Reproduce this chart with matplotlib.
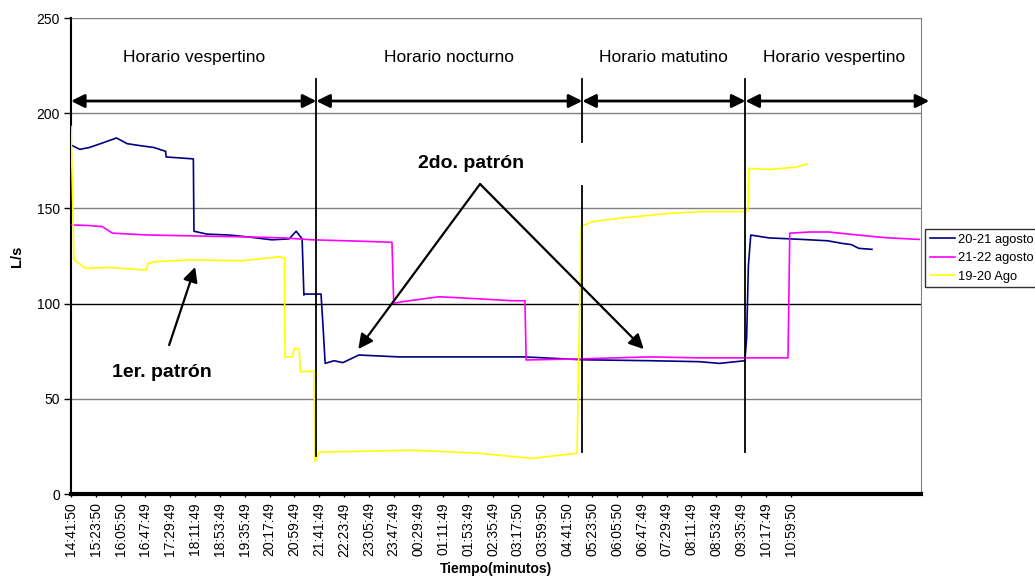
import matplotlib
matplotlib.use("Agg")
import matplotlib.pyplot as plt

plt.rcParams['font.family'] = ['Liberation Sans', 'DejaVu Sans']

# Time labels (every 42 minutes from 14:41:50)
tick_labels = ["14:41:50", "15:23:50", "16:05:50", "16:47:49", "17:29:49", "18:11:49",
               "18:53:49", "19:35:49", "20:17:49", "20:59:49", "21:41:49", "22:23:49",
               "23:05:49", "23:47:49", "00:29:49", "01:11:49", "01:53:49", "02:35:49",
               "03:17:50", "03:59:50", "04:41:50", "05:23:50", "06:05:50", "06:47:49",
               "07:29:49", "08:11:49", "08:53:49", "09:35:49", "10:17:49", "10:59:50"]
tick_pos = [42 * i for i in range(len(tick_labels))]

# 20-21 agosto (minutes since 14:41:50, L/s)
t_2021 = [2, 15, 31, 50, 77, 95, 116, 140, 160, 161, 185, 207, 208, 230, 268, 300, 340,
          369, 381, 391, 394, 396, 423, 426, 430, 445, 460, 487, 555, 650, 768, 865,
          980, 1063, 1097, 1140, 1143, 1146, 1150, 1181, 1237, 1280, 1305, 1320, 1333, 1355]
v_2021 = [183, 181, 182, 184, 187, 184, 183, 182, 180, 177, 176.5, 176, 138, 136.5, 136, 135, 133.5,
          134, 138, 134, 104.5, 105, 105, 90, 68.6, 70, 69, 73, 72, 72, 72, 70.5,
          70, 69.5, 68.6, 70, 82, 120, 136, 134.5, 133.7, 133, 131.6, 131, 129, 128.5]

# 21-22 agosto
t_2122 = [2, 30, 53, 70, 100, 133, 217, 302, 360, 408, 487, 543, 546, 560, 623, 690, 746, 768,
          770, 865, 978, 1063, 1142, 1213, 1216, 1250, 1282, 1322, 1379, 1435]
v_2122 = [141.3, 141, 140.4, 137, 136.5, 136, 135.5, 135, 134.5, 133.5, 132.8, 132.2, 100.1, 101, 103.6, 102.5, 101.5, 101.5,
          70.4, 71, 72, 71.5, 71.5, 71.5, 137, 137.6, 137.6, 136.3, 134.6, 133.7]

# 19-20 Ago
t_1920 = [0, 5, 25, 65, 127, 130, 141, 205, 290, 352, 361, 362, 374, 378, 381, 386, 388, 411,
          413, 420, 500, 577, 690, 780, 856, 863, 881, 927, 1012, 1068, 1139, 1145, 1147, 1181, 1226, 1245]
v_1920 = [193, 123, 118.5, 119, 117.6, 121, 122, 123, 122.5, 124.6, 124, 72, 72, 76.5, 76.5, 76, 64.2, 64.5,
          17, 22, 22.5, 23, 21.4, 18.7, 21.4, 140.4, 143, 144.8, 147.4, 148.3, 148.3, 148.5, 171, 170.5, 171.6, 173.3]

# Period boundaries (minutes) and labels
bounds = [0, 415, 865, 1141, 1452]
periods = ["Horario vespertino", "Horario nocturno", "Horario matutino", "Horario vespertino"]

fig = plt.figure(figsize=(10.35, 5.86), dpi=100)
ax = fig.add_axes([71 / 1035, 92 / 586, 850 / 1035, 476 / 586])

ax.set_xlim(0, 1438)
ax.set_ylim(0, 250)
ax.set_yticks([0, 50, 100, 150, 200, 250])
for y in [50, 150, 200, 250]:
    ax.axhline(y, color='#808080', lw=1.0, zorder=1)
ax.axhline(100, color='black', lw=1.0, zorder=1)

ax.plot(t_2021, v_2021, color='#000080', lw=1.2, label='20-21 agosto', zorder=3)
ax.plot(t_2122, v_2122, color='#FF00FF', lw=1.2, label='21-22 agosto', zorder=3)
ax.plot(t_1920, v_1920, color='#FFFF00', lw=1.2, label='19-20 Ago', zorder=3)

# vertical separators
ax.plot([bounds[1]] * 2, [20, 218], color='black', lw=1.3, zorder=4)
ax.plot([bounds[2]] * 2, [22, 162], color='black', lw=1.3, zorder=4)
ax.plot([bounds[2]] * 2, [185, 218], color='black', lw=1.3, zorder=4)
ax.plot([bounds[3]] * 2, [22, 218], color='black', lw=1.3, zorder=4)

# period arrows and labels
for i, name in enumerate(periods):
    ax.annotate('', xy=(bounds[i + 1], 206.4), xytext=(bounds[i], 206.4),
                arrowprops=dict(arrowstyle='<|-|>', color='black', lw=2,
                                mutation_scale=20, shrinkA=0, shrinkB=0),
                annotation_clip=False, zorder=5)
    ax.text((bounds[i] + min(bounds[i + 1], 1440)) / 2, 229.5, name,
            ha='center', va='center', fontsize=12.5)

# pattern annotations
ax.text(677, 173.8, "2do. patrón", ha='center', va='center', fontsize=14, fontweight='bold')
for tip in [(486, 76.1), (969, 76.1)]:
    ax.annotate('', xy=tip, xytext=(692, 162.8),
                arrowprops=dict(arrowstyle='-|>', color='black', lw=1.6,
                                mutation_scale=22, shrinkA=0, shrinkB=0), zorder=5)
ax.text(154, 64, "1er. patrón", ha='center', va='center', fontsize=14, fontweight='bold')
ax.annotate('', xy=(210, 119.2), xytext=(166, 78.2),
            arrowprops=dict(arrowstyle='-|>', color='black', lw=1.6,
                            mutation_scale=22, shrinkA=0, shrinkB=0), zorder=5)

ax.set_xticks(tick_pos)
ax.set_xticklabels(tick_labels, rotation=90, fontsize=10)
ax.tick_params(axis='x', length=2, width=1, pad=4)
ax.tick_params(axis='y', labelsize=10, length=5, width=1, pad=3)

ax.spines['top'].set_visible(False)
ax.spines['right'].set_color('#808080')
ax.spines['left'].set_linewidth(1.5)
ax.spines['bottom'].set_linewidth(3)

ax.set_xlabel("Tiempo(minutos)", fontsize=10, fontweight='bold', labelpad=4)
ax.set_ylabel("L/s", fontsize=10.5, fontweight='bold', labelpad=9)

leg = ax.legend(loc='upper left', bbox_to_anchor=(925 / 1035, 1 - 229 / 586),
                bbox_transform=fig.transFigure, fontsize=9.3, frameon=True,
                fancybox=False, edgecolor='black', handlelength=2.0,
                borderpad=0.35, labelspacing=0.5, handletextpad=0.2, borderaxespad=0)
leg.get_frame().set_linewidth(1)

fig.savefig("out.png", dpi=100)
